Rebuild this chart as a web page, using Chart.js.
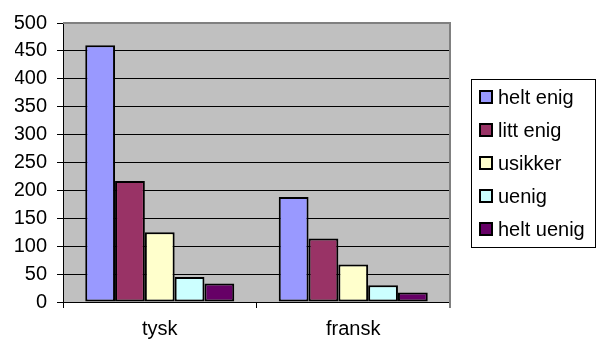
<!DOCTYPE html>
<html>
<head>
<meta charset="utf-8">
<script src="https://cdn.jsdelivr.net/npm/chart.js@4/dist/chart.umd.min.js"></script>
<style>
  html, body { margin: 0; padding: 0; background: #ffffff; }
  #wrap { width: 596px; height: 342px; }
</style>
</head>
<body>
<div id="wrap"><canvas id="chart" width="596" height="342"></canvas></div>
<script>
// Survey answers per language
const categories = ['tysk', 'fransk'];
const seriesNames = ['helt enig', 'litt enig', 'usikker', 'uenig', 'helt uenig'];
const heltEnig = [460, 188];
const littEnig = [217, 114];
const usikker = [125, 67];
const uenig = [45, 30];
const heltUenig = [33, 17];
const yTickValues = [0, 50, 100, 150, 200, 250, 300, 350, 400, 450, 500];
const seriesColors = ['#9999FF', '#993366', '#FFFFCC', '#CCFFFF', '#660066'];

const seriesValues = [heltEnig, littEnig, usikker, uenig, heltUenig];

const FONT_FAMILY = "'Liberation Sans', Arial, sans-serif";
const FONT_SIZE = 20;

Chart.defaults.font.family = FONT_FAMILY;
Chart.defaults.font.size = FONT_SIZE;
Chart.defaults.color = '#000000';

// Grey plot background and white page
const plotBackground = {
  id: 'plotBackground',
  beforeDraw(chart) {
    const { ctx, chartArea: a } = chart;
    ctx.save();
    ctx.fillStyle = '#ffffff';
    ctx.fillRect(0, 0, chart.width, chart.height);
    ctx.fillStyle = '#C0C0C0';
    ctx.fillRect(a.left, a.top, a.right - a.left, a.bottom - a.top);
    ctx.restore();
  },
  beforeDatasetsDraw(chart) {
    // grey frame on the top and right edges of the plot
    const { ctx, chartArea: a } = chart;
    ctx.save();
    ctx.strokeStyle = '#808080';
    ctx.lineWidth = 2;
    ctx.beginPath();
    ctx.moveTo(a.left, a.top);
    ctx.lineTo(a.right, a.top);
    ctx.lineTo(a.right, a.bottom + 6);
    ctx.stroke();
    ctx.restore();
  }
};

// Framed legend to the right of the plot
const framedLegend = {
  id: 'framedLegend',
  afterDraw(chart) {
    const { ctx, chartArea: a } = chart;
    const rowH = 33;
    const n = chart.data.datasets.length;
    const boxH = n * rowH + 3;
    const midY = (a.top + a.bottom) / 2;
    const left = Math.round(a.right + 21) + 0.5;
    const top = Math.round(midY - boxH / 2) + 0.5;
    const right = chart.width - 0.5;
    ctx.save();
    ctx.strokeStyle = '#000000';
    ctx.lineWidth = 1;
    ctx.strokeRect(left, top, right - left, boxH);
    ctx.font = FONT_SIZE + 'px ' + FONT_FAMILY;
    ctx.textBaseline = 'middle';
    ctx.textAlign = 'left';
    chart.data.datasets.forEach((ds, i) => {
      const cy = top + 18 + i * rowH;
      const sx = left + 8.5;
      ctx.fillStyle = ds.backgroundColor;
      ctx.fillRect(sx, cy - 6.5, 12, 12);
      ctx.lineWidth = 2;
      ctx.strokeStyle = '#000000';
      ctx.strokeRect(sx, cy - 6.5, 12, 12);
      ctx.fillStyle = '#000000';
      ctx.fillText(ds.label, sx + 18, cy + 1);
    });
    ctx.restore();
  }
};

new Chart(document.getElementById('chart'), {
  type: 'bar',
  data: {
    labels: categories,
    datasets: seriesNames.map((name, i) => ({
      label: name,
      data: seriesValues[i],
      backgroundColor: seriesColors[i],
      borderColor: '#000000',
      borderWidth: 2,
      borderSkipped: false,
      barPercentage: 1,
      categoryPercentage: 0.77
    }))
  },
  options: {
    responsive: false,
    animation: false,
    layout: { padding: { left: 15, right: 146, top: 23, bottom: 0 } },
    plugins: {
      legend: { display: false },
      tooltip: { enabled: false }
    },
    scales: {
      x: {
        grid: {
          offset: true,
          drawOnChartArea: false,
          drawTicks: true,
          tickLength: 6,
          color: '#000000'
        },
        border: { color: '#000000', width: 1 },
        ticks: { padding: 9, font: { size: FONT_SIZE } },
        afterFit(scale) { scale.height = 40; }
      },
      y: {
        min: 0,
        max: 500,
        afterBuildTicks(scale) { scale.ticks = yTickValues.map(v => ({ value: v })); },
        grid: {
          color: '#000000',
          lineWidth: 1,
          tickLength: 6
        },
        border: { color: '#000000', width: 1 },
        ticks: { padding: 10, font: { size: FONT_SIZE } },
        afterFit(scale) { scale.width = 48; }
      }
    }
  },
  plugins: [plotBackground, framedLegend]
});
</script>
</body>
</html>
